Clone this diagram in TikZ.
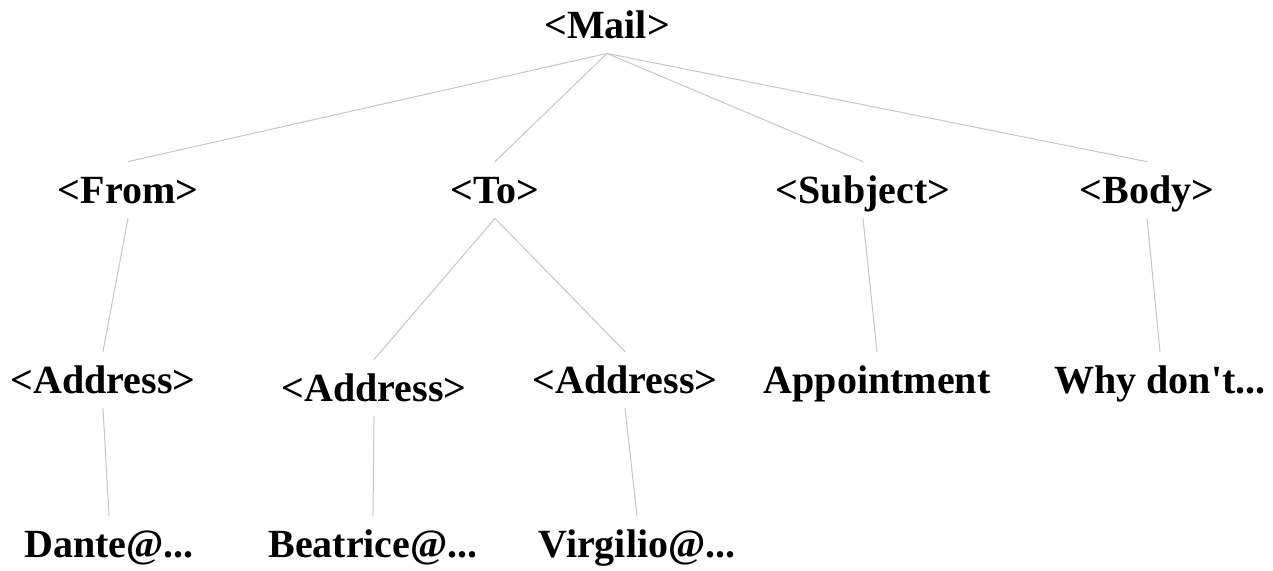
\documentclass[tikz,border=0pt]{standalone}
\usepackage{fontspec}
\newfontfamily\tagfont{Liberation Serif}
\definecolor{linkgray}{RGB}{198,198,198}
\tikzset{
  elem/.style={anchor=base,inner xsep=0pt,inner ysep=7.5pt,text height=13pt,text depth=0pt,font=\tagfont\fontsize{20}{24}\selectfont\bfseries},
  link/.style={draw=linkgray,line width=0.5pt}
}
\begin{document}
\begin{tikzpicture}[x=0.5pt,y=-0.5pt,line cap=round,line join=round]
\useasboundingbox (0,0) rectangle (1273,570);
\node[elem] (mail) at (607,38) {<Mail>};
\node[elem] (from) at (128,203) {<From>};
\node[elem] (to) at (495,203) {<To>};
\node[elem] (subject) at (863,203) {<Subject>};
\node[elem] (body) at (1147,203) {<Body>};
\node[elem] (addrA) at (103,393) {<Address>};
\node[elem] (addrB) at (374,401) {<Address>};
\node[elem] (addrC) at (625,393) {<Address>};
\node[elem] (appt) at (877,393) {Appointment};
\node[elem] (why) at (1160,393) {Why don't...};
\node[elem] (dante) at (109,557) {Dante@...};
\node[elem] (beatrice) at (373,557) {Beatrice@...};
\node[elem] (virgilio) at (637,557) {Virgilio@...};
\draw[link] (mail.south) -- (from.north);
\draw[link] (mail.south) -- (to.north);
\draw[link] (mail.south) -- (subject.north);
\draw[link] (mail.south) -- (body.north);
\draw[link] (from.south) -- (addrA.north);
\draw[link] (to.south) -- (addrB.north);
\draw[link] (to.south) -- (addrC.north);
\draw[link] (subject.south) -- (appt.north);
\draw[link] (body.south) -- (why.north);
\draw[link] (addrA.south) -- (dante.north);
\draw[link] (addrB.south) -- (beatrice.north);
\draw[link] (addrC.south) -- (virgilio.north);
\end{tikzpicture}
\end{document}
